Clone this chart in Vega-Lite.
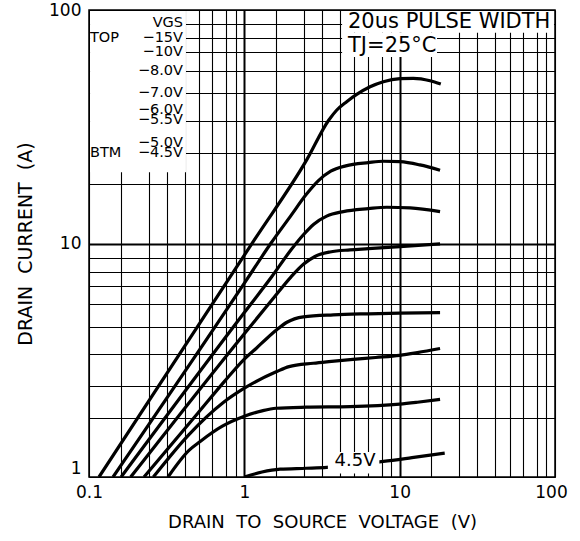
{
  "$schema": "https://vega.github.io/schema/vega-lite/v6.json",
  "width": 466,
  "height": 467,
  "autosize": {"type": "none"},
  "padding": {"left": 89, "top": 10, "right": 25, "bottom": 64},
  "background": "white",
  "config": {"view": {"stroke": "black", "strokeWidth": 1.5}, "font": "DejaVu Sans"},
  "datasets": {
    "curves": [
      {"vgs": "-15V", "V": 0.116, "I": 1}, {"vgs": "-15V", "V": 1.16, "I": 10.36}, {"vgs": "-15V", "V": 2.52, "I": 22.8}, {"vgs": "-15V", "V": 3.5, "I": 33.8}, {"vgs": "-15V", "V": 3.94, "I": 37.3}, {"vgs": "-15V", "V": 4.56, "I": 40.5}, {"vgs": "-15V", "V": 5.29, "I": 43.5}, {"vgs": "-15V", "V": 6.45, "I": 46.9}, {"vgs": "-15V", "V": 7.85, "I": 49.3}, {"vgs": "-15V", "V": 10.06, "I": 50.8}, {"vgs": "-15V", "V": 12.25, "I": 51.0}, {"vgs": "-15V", "V": 15.7, "I": 49.8}, {"vgs": "-15V", "V": 18.4, "I": 48.2},
      {"vgs": "-10V", "V": 0.1428, "I": 1}, {"vgs": "-10V", "V": 1.036, "I": 7.0}, {"vgs": "-10V", "V": 1.479, "I": 10}, {"vgs": "-10V", "V": 2.0, "I": 13.2}, {"vgs": "-10V", "V": 2.5, "I": 16.2}, {"vgs": "-10V", "V": 3.0, "I": 18.6}, {"vgs": "-10V", "V": 3.6, "I": 20.4}, {"vgs": "-10V", "V": 4.5, "I": 21.5}, {"vgs": "-10V", "V": 6.29, "I": 22.2}, {"vgs": "-10V", "V": 7.85, "I": 22.5}, {"vgs": "-10V", "V": 10.06, "I": 22.4}, {"vgs": "-10V", "V": 13.5, "I": 21.7}, {"vgs": "-10V", "V": 18.2, "I": 20.6},
      {"vgs": "-8.0V", "V": 0.161, "I": 1}, {"vgs": "-8.0V", "V": 1.0, "I": 5.06}, {"vgs": "-8.0V", "V": 1.5, "I": 7.2}, {"vgs": "-8.0V", "V": 2.0, "I": 9.4}, {"vgs": "-8.0V", "V": 2.4, "I": 10.9}, {"vgs": "-8.0V", "V": 2.8, "I": 12.1}, {"vgs": "-8.0V", "V": 3.39, "I": 13.1}, {"vgs": "-8.0V", "V": 4.34, "I": 13.7}, {"vgs": "-8.0V", "V": 6.29, "I": 14.1}, {"vgs": "-8.0V", "V": 8.26, "I": 14.3}, {"vgs": "-8.0V", "V": 11.67, "I": 14.2}, {"vgs": "-8.0V", "V": 18.2, "I": 13.7},
      {"vgs": "-7.0V", "V": 0.1856, "I": 1}, {"vgs": "-7.0V", "V": 1.0, "I": 4.11}, {"vgs": "-7.0V", "V": 1.5, "I": 5.71}, {"vgs": "-7.0V", "V": 2.0, "I": 7.2}, {"vgs": "-7.0V", "V": 2.4, "I": 8.15}, {"vgs": "-7.0V", "V": 2.85, "I": 8.8}, {"vgs": "-7.0V", "V": 3.56, "I": 9.2}, {"vgs": "-7.0V", "V": 4.79, "I": 9.39}, {"vgs": "-7.0V", "V": 6.29, "I": 9.5}, {"vgs": "-7.0V", "V": 10.06, "I": 9.7}, {"vgs": "-7.0V", "V": 18.2, "I": 9.97},
      {"vgs": "-6.0V", "V": 0.226, "I": 1}, {"vgs": "-6.0V", "V": 0.5, "I": 1.87}, {"vgs": "-6.0V", "V": 0.75, "I": 2.58}, {"vgs": "-6.0V", "V": 1.0, "I": 3.2}, {"vgs": "-6.0V", "V": 1.2, "I": 3.57}, {"vgs": "-6.0V", "V": 1.4, "I": 3.93}, {"vgs": "-6.0V", "V": 1.617, "I": 4.27}, {"vgs": "-6.0V", "V": 1.88, "I": 4.6}, {"vgs": "-6.0V", "V": 2.4, "I": 4.85}, {"vgs": "-6.0V", "V": 3.74, "I": 4.95}, {"vgs": "-6.0V", "V": 6.29, "I": 5.0}, {"vgs": "-6.0V", "V": 10, "I": 5.03}, {"vgs": "-6.0V", "V": 18.2, "I": 5.06},
      {"vgs": "-5.5V", "V": 0.2595, "I": 1}, {"vgs": "-5.5V", "V": 0.44, "I": 1.52}, {"vgs": "-5.5V", "V": 0.722, "I": 2.07}, {"vgs": "-5.5V", "V": 1.0, "I": 2.4}, {"vgs": "-5.5V", "V": 1.617, "I": 2.83}, {"vgs": "-5.5V", "V": 1.94, "I": 2.97}, {"vgs": "-5.5V", "V": 2.78, "I": 3.07}, {"vgs": "-5.5V", "V": 3.5, "I": 3.12}, {"vgs": "-5.5V", "V": 5, "I": 3.19}, {"vgs": "-5.5V", "V": 7, "I": 3.25}, {"vgs": "-5.5V", "V": 10, "I": 3.32}, {"vgs": "-5.5V", "V": 13, "I": 3.41}, {"vgs": "-5.5V", "V": 18.2, "I": 3.55},
      {"vgs": "-5.0V", "V": 0.3227, "I": 1}, {"vgs": "-5.0V", "V": 0.44, "I": 1.3}, {"vgs": "-5.0V", "V": 0.52, "I": 1.42}, {"vgs": "-5.0V", "V": 0.722, "I": 1.65}, {"vgs": "-5.0V", "V": 1.0, "I": 1.82}, {"vgs": "-5.0V", "V": 1.3, "I": 1.92}, {"vgs": "-5.0V", "V": 1.6, "I": 1.97}, {"vgs": "-5.0V", "V": 2.5, "I": 1.99}, {"vgs": "-5.0V", "V": 4.79, "I": 2.0}, {"vgs": "-5.0V", "V": 10, "I": 2.05}, {"vgs": "-5.0V", "V": 13, "I": 2.09}, {"vgs": "-5.0V", "V": 18.2, "I": 2.15},
      {"vgs": "-4.5V", "V": 1.0, "I": 1.0}, {"vgs": "-4.5V", "V": 1.3, "I": 1.05}, {"vgs": "-4.5V", "V": 1.7, "I": 1.08}, {"vgs": "-4.5V", "V": 2.5, "I": 1.09}, {"vgs": "-4.5V", "V": 3.4, "I": 1.1}, {"vgs": "-4.5V", "V": 5.0, "I": 1.13}, {"vgs": "-4.5V", "V": 7.85, "I": 1.166}, {"vgs": "-4.5V", "V": 12, "I": 1.21}, {"vgs": "-4.5V", "V": 19.5, "I": 1.265}
    ],
    "masks": [
      {"V": 0.1016, "V2": 0.421, "I": 20.2, "I2": 99.0},
      {"V": 4.26, "V2": 98.5, "I": 80, "I2": 99.0},
      {"V": 4.26, "V2": 17.4, "I": 62.9, "I2": 80},
      {"V": 3.45, "V2": 7.4, "I": 1.035, "I2": 1.28}
    ],
    "legendR": [
      {"t": "VGS", "V": 0.403, "I": 88.0},
      {"t": "−15V", "V": 0.403, "I": 75.9},
      {"t": "−10V", "V": 0.403, "I": 66.1},
      {"t": "−8.0V", "V": 0.403, "I": 54.8},
      {"t": "−7.0V", "V": 0.403, "I": 44.1},
      {"t": "−6.0V", "V": 0.403, "I": 37.2},
      {"t": "−5.5V", "V": 0.403, "I": 33.7},
      {"t": "−5.0V", "V": 0.403, "I": 26.9},
      {"t": "−4.5V", "V": 0.403, "I": 24.3}
    ],
    "legendL": [
      {"t": "TOP", "V": 0.1015, "I": 75.9},
      {"t": "BTM", "V": 0.1015, "I": 24.3}
    ],
    "notes": [
      {"t": "20us PULSE WIDTH", "V": 4.65, "I": 89.1},
      {"t": "TJ=25°C", "V": 4.65, "I": 70.1}
    ],
    "curveLabel": [
      {"t": "4.5V", "V": 5.16, "I": 1.171}
    ]
  },
  "encoding": {
    "x": {
      "field": "V", "type": "quantitative",
      "scale": {"type": "log", "domain": [0.1, 100], "nice": false},
      "axis": {
        "values": [0.1, 0.16, 0.2416, 0.316, 0.4127, 0.5103, 0.6232, 0.7656, 0.8804, 1, 1.6, 2.416, 3.16, 4.127, 5.103, 6.232, 7.656, 8.804, 10, 16, 24.16, 31.6, 41.27, 51.03, 62.32, 76.56, 88.04, 100],
        "title": "DRAIN\u00a0\u00a0TO\u00a0\u00a0SOURCE\u00a0\u00a0VOLTAGE\u00a0\u00a0(V)",
        "titleFont": "DejaVu Sans", "titleFontSize": 18, "titleFontWeight": "normal", "titleColor": "black", "titlePadding": 13,
        "labelExpr": "datum.value === 0.1 ? '0.1' : datum.value === 1 ? '1' : datum.value === 10 ? '10' : datum.value === 100 ? '100' : ''",
        "labelFont": "DejaVu Sans", "labelFontSize": 17, "labelColor": "black", "labelPadding": 7,
        "labelOverlap": false, "labelFlush": false, "labelBound": false,
        "labelOffset": {"condition": {"test": "datum.value === 100", "value": -4}, "value": 0},
        "ticks": false, "domain": false,
        "grid": true, "gridColor": "black", "gridOpacity": 1,
        "gridWidth": {"condition": {"test": "datum.value === 1 || datum.value === 10", "value": 2}, "value": 1.1}
      }
    },
    "y": {
      "field": "I", "type": "quantitative",
      "scale": {"type": "log", "domain": [1, 100], "nice": false},
      "axis": {
        "values": [1, 1.79, 2.45, 3.36, 4.4, 5.49, 6.6, 7.58, 8.67, 10, 17.9, 24.5, 33.6, 44, 54.9, 66, 75.8, 86.7, 100],
        "title": "DRAIN\u00a0\u00a0CURRENT\u00a0\u00a0(A)",
        "titleFont": "DejaVu Sans", "titleFontSize": 19, "titleFontWeight": "normal", "titleColor": "black", "titlePadding": 13,
        "labelExpr": "datum.value === 1 ? '1' : datum.value === 10 ? '10' : datum.value === 100 ? '100' : ''",
        "labelFont": "DejaVu Sans", "labelFontSize": 17, "labelColor": "black", "labelPadding": 8,
        "labelOverlap": false, "labelFlush": false, "labelBound": false,
        "labelBaseline": {"condition": {"test": "datum.value === 1", "value": "bottom"}, "value": "middle"},
        "ticks": false, "domain": false,
        "grid": true, "gridColor": "black", "gridOpacity": 1,
        "gridWidth": {"condition": {"test": "datum.value === 10", "value": 2}, "value": 1.1}
      }
    }
  },
  "layer": [
    {
      "data": {"name": "curves"},
      "mark": {"type": "line", "color": "black", "strokeWidth": 3.2, "interpolate": "monotone", "clip": true},
      "encoding": {"detail": {"field": "vgs"}}
    },
    {
      "data": {"name": "masks"},
      "mark": {"type": "rect", "fill": "white"},
      "encoding": {"x2": {"field": "V2"}, "y2": {"field": "I2"}}
    },
    {
      "data": {"name": "legendR"},
      "mark": {"type": "text", "align": "right", "baseline": "middle", "fontSize": 14.5, "font": "DejaVu Sans", "color": "black"},
      "encoding": {"text": {"field": "t"}}
    },
    {
      "data": {"name": "legendL"},
      "mark": {"type": "text", "align": "left", "baseline": "middle", "fontSize": 14.5, "font": "DejaVu Sans", "color": "black"},
      "encoding": {"text": {"field": "t"}}
    },
    {
      "data": {"name": "notes"},
      "mark": {"type": "text", "align": "left", "baseline": "middle", "fontSize": 21, "font": "DejaVu Sans", "color": "black"},
      "encoding": {"text": {"field": "t"}}
    },
    {
      "data": {"name": "curveLabel"},
      "mark": {"type": "text", "align": "center", "baseline": "middle", "fontSize": 18, "font": "DejaVu Sans", "color": "black"},
      "encoding": {"text": {"field": "t"}}
    }
  ]
}
